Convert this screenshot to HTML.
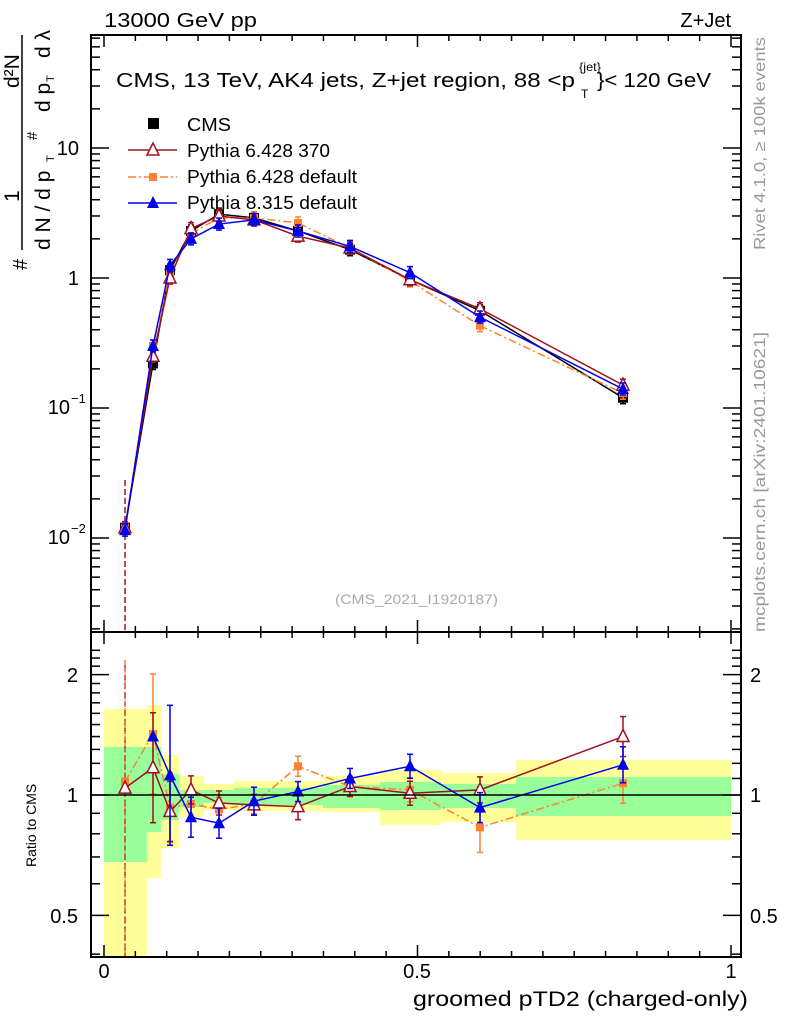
<!DOCTYPE html>
<html><head><meta charset="utf-8"><style>
body{margin:0;background:#fff}
svg{display:block;font-family:"Liberation Sans",sans-serif}
</style></head><body>
<svg id="s" width="786" height="1024" viewBox="0 0 786 1024" xmlns="http://www.w3.org/2000/svg">
<rect width="786" height="1024" fill="#fff"/>
<g id="bands"></g>
<g id="plot"></g>
<rect x="91" y="35" width="650" height="597" fill="none" stroke="#000" stroke-width="2"/>
<rect x="91" y="632" width="650" height="325" fill="none" stroke="#000" stroke-width="2"/>
<line x1="91" y1="795" x2="741" y2="795" stroke="#000" stroke-width="1.5"/>
<g id="ticks" stroke="#000" stroke-width="1.5"></g>
<text x="104" y="27" font-size="20" textLength="153" lengthAdjust="spacingAndGlyphs">13000 GeV pp</text>
<text x="731" y="27" font-size="20" text-anchor="end">Z+Jet</text>
<text x="116" y="87" font-size="20" textLength="459" lengthAdjust="spacingAndGlyphs">CMS, 13 TeV, AK4 jets, Z+jet region, 88 &lt;p</text>
<text x="579" y="71" font-size="12" textLength="22" lengthAdjust="spacingAndGlyphs">{jet}</text>
<text x="581" y="98" font-size="12">T</text>
<text x="597" y="87" font-size="20" textLength="114" lengthAdjust="spacingAndGlyphs">}&lt; 120 GeV</text>
<text x="187" y="131" font-size="18" textLength="44" lengthAdjust="spacingAndGlyphs">CMS</text>
<text x="187" y="157" font-size="18" textLength="143" lengthAdjust="spacingAndGlyphs">Pythia 6.428 370</text>
<text x="187" y="183" font-size="18" textLength="170" lengthAdjust="spacingAndGlyphs">Pythia 6.428 default</text>
<text x="187" y="209" font-size="18" textLength="170" lengthAdjust="spacingAndGlyphs">Pythia 8.315 default</text>
<rect x="148" y="118" width="11" height="11" fill="#000"/>
<line x1="128" y1="150" x2="177" y2="150" stroke="#a01020" stroke-width="1.5"/>
<polygon points="153,143 147,155 159,155" fill="#fff" stroke="#a01020" stroke-width="1.5"/>
<line x1="128" y1="177" x2="177" y2="177" stroke="#ff8030" stroke-width="1.5" stroke-dasharray="8,3,2,3"/>
<rect x="149" y="173" width="8" height="8" fill="#ff8030"/>
<line x1="128" y1="203" x2="177" y2="203" stroke="#0000ee" stroke-width="1.5"/>
<polygon points="153,196 147,208 159,208" fill="#0000ee"/>
<text x="335" y="604" font-size="14" fill="#aaa" textLength="163" lengthAdjust="spacingAndGlyphs">(CMS_2021_I1920187)</text>
<text transform="translate(765,250) rotate(-90)" font-size="16" fill="#999" textLength="213" lengthAdjust="spacingAndGlyphs">Rivet 4.1.0, ≥ 100k events</text>
<text transform="translate(765,632) rotate(-90)" font-size="16" fill="#999" textLength="300" lengthAdjust="spacingAndGlyphs">mcplots.cern.ch [arXiv:2401.10621]</text>
<!-- y label -->
<text transform="translate(27,270) rotate(-90)" font-size="20">#</text>
<line x1="22" y1="35" x2="22" y2="250" stroke="#000" stroke-width="1.5"/>
<text transform="translate(19,202) rotate(-90)" font-size="21">1</text>
<text transform="translate(50,250) rotate(-90)" font-size="21">d N / d p</text>
<text transform="translate(54,162) rotate(-90)" font-size="11">T</text>
<text transform="translate(37,140) rotate(-90)" font-size="15">#</text>
<text transform="translate(50,112) rotate(-90)" font-size="21">d p</text>
<text transform="translate(54,82) rotate(-90)" font-size="11">T</text>
<text transform="translate(50,58) rotate(-90)" font-size="21">d λ</text>
<text transform="translate(19,88) rotate(-90)" font-size="21">d²N</text>
<text transform="translate(36,867) rotate(-90)" font-size="14">Ratio to CMS</text>
<text x="413" y="1006" font-size="21" textLength="335" lengthAdjust="spacingAndGlyphs">groomed pTD2 (charged-only)</text>
<text x="104" y="978" font-size="20" text-anchor="middle">0</text>
<text x="417" y="978" font-size="20" text-anchor="middle">0.5</text>
<text x="731" y="978" font-size="20" text-anchor="middle">1</text>
<text x="79" y="155" font-size="20" text-anchor="end">10</text>
<text x="79" y="285" font-size="20" text-anchor="end">1</text>
<text x="70" y="414" font-size="20" text-anchor="end">10</text><text x="71" y="403" font-size="13">−1</text>
<text x="70" y="544" font-size="20" text-anchor="end">10</text><text x="71" y="533" font-size="13">−2</text>
<text x="78" y="682" font-size="20" text-anchor="end">2</text>
<text x="78" y="802" font-size="20" text-anchor="end">1</text>
<text x="78" y="923" font-size="20" text-anchor="end">0.5</text>
<text x="750" y="682" font-size="20">2</text>
<text x="750" y="802" font-size="20">1</text>
<text x="750" y="923" font-size="20">0.5</text>
</svg>
<script>
const NS="http://www.w3.org/2000/svg";
function el(p,t,a){const e=document.createElementNS(NS,t);for(const k in a)e.setAttribute(k,a[k]);p.appendChild(e);return e;}
const B=document.getElementById('bands'),P=document.getElementById('plot'),T=document.getElementById('ticks');
const X=v=>104+627*v;
const ym=v=>278-130*Math.log10(v);
const yr=r=>795-400*Math.log10(r);
const edges=[104,147,161,179,204,234,274,323,380,441,516,731];
const yel=[[709,957],[705,878],[755,848],[776,817],[784,810],[781,811],[781,811],[776,812],[770,825],[773,822],[760,840]];
const grn=[[747,862],[747,832],[774,820],[790,807],[790,803],[788,805],[788,805],[785,808],[782,810],[784,808],[777,816]];
for(let i=0;i<11;i++){
 el(B,'rect',{x:edges[i],y:yel[i][0],width:edges[i+1]-edges[i],height:yel[i][1]-yel[i][0],fill:'#ffff99'});
 el(B,'rect',{x:edges[i],y:grn[i][0],width:edges[i+1]-edges[i],height:grn[i][1]-grn[i][0],fill:'#99ff99'});
}
const xs=[125,153,170,191,219,254,298,350,410,480,623];
const cms=[0.012,0.22,1.15,2.3,3.1,2.9,2.3,1.65,0.97,0.56,0.12];
const p6=[0.012,0.25,1.0,2.4,3.0,2.8,2.1,1.7,0.97,0.58,0.15];
const p6d=[0.012,0.3,1.1,2.2,2.9,2.9,2.65,1.7,0.95,0.43,0.13];
const p8=[0.0115,0.3,1.25,2.0,2.6,2.8,2.3,1.75,1.1,0.5,0.14];
const r6=[1.04,1.17,0.91,1.03,0.955,0.945,0.935,1.05,1.01,1.03,1.4];
const r6d=[1.08,1.42,0.93,0.95,0.92,0.95,1.18,1.05,1.03,0.83,1.07];
const r8=[null,1.4,1.12,0.88,0.85,0.965,1.02,1.1,1.18,0.93,1.19];
function series(vals,f,col,dash,mk,err){
 const pts=[];vals.forEach((v,i)=>{if(v!=null)pts.push([xs[i],f(v)])});
 el(P,'polyline',{points:pts.map(p=>p.join(',')).join(' '),fill:'none',stroke:col,'stroke-width':1.5,'stroke-dasharray':dash||''});
 pts.forEach((p,i)=>{
  const e=err?err(i):6;
  el(P,'line',{x1:p[0],y1:p[1]-e,x2:p[0],y2:p[1]+e,stroke:col,'stroke-width':1.5});
  el(P,'line',{x1:p[0]-3,y1:p[1]-e,x2:p[0]+3,y2:p[1]-e,stroke:col,'stroke-width':1.5});
  el(P,'line',{x1:p[0]-3,y1:p[1]+e,x2:p[0]+3,y2:p[1]+e,stroke:col,'stroke-width':1.5});
  if(mk=='sq')el(P,'rect',{x:p[0]-5,y:p[1]-5,width:10,height:10,fill:col});
  else if(mk=='sqs')el(P,'rect',{x:p[0]-4,y:p[1]-4,width:8,height:8,fill:col});
  else if(mk=='to')el(P,'polygon',{points:`${p[0]},${p[1]-7} ${p[0]-6},${p[1]+5} ${p[0]+6},${p[1]+5}`,fill:'#fff',stroke:col,'stroke-width':1.5});
  else el(P,'polygon',{points:`${p[0]},${p[1]-7} ${p[0]-6},${p[1]+5} ${p[0]+6},${p[1]+5}`,fill:col});
 });
}
el(P,'line',{x1:125,y1:480,x2:125,y2:632,stroke:'#a01020','stroke-width':1.5,'stroke-dasharray':'6,3'});
series(cms,ym,'#000','', 'sq');
series(p6d,ym,'#ff8030','8,3,2,3','sqs');
series(p6,ym,'#a01020','','to');
series(p8,ym,'#0000ee','','tf');
el(P,'line',{x1:125,y1:660,x2:125,y2:957,stroke:'#ff8030','stroke-width':1.5,'stroke-dasharray':'8,3,2,3'});
el(P,'line',{x1:125,y1:665,x2:125,y2:957,stroke:'#a01020','stroke-width':1,'stroke-dasharray':'6,3'});
const e6=[0,55,30,14,12,10,13,10,12,13,20],e8=[0,70,20,15,14,10,10,12,15,18,25],e6d=[0,60,35,15,12,10,10,10,12,25,20];
series(r6d,yr,'#ff8030','8,3,2,3','sqs',i=>e6d[i]);
series(r6,yr,'#a01020','','to',i=>e6[i]);
series(r8,yr,'#0000ee','','tf',i=>e8[i]);
for(let v=0;v<=1.001;v+=0.05){const x=X(v),big=Math.abs(v*10-Math.round(v*10))<1e-6&&Math.round(v*10)%5==0;const L=big?12:6;
 el(T,'line',{x1:x,y1:632,x2:x,y2:632-L});el(T,'line',{x1:x,y1:35,x2:x,y2:35+L});
 el(T,'line',{x1:x,y1:957,x2:x,y2:957-L});el(T,'line',{x1:x,y1:632,x2:x,y2:632+L});}
for(let d=-3;d<=1;d++)for(let m=1;m<10;m++){const y=ym(m*Math.pow(10,d));if(y<35||y>632)continue;const L=m==1?18:9;
 el(T,'line',{x1:91,y1:y,x2:91+L,y2:y});el(T,'line',{x1:741,y1:y,x2:741-L,y2:y});}
for(let r=0.4;r<=2.35;r+=0.1){const y=yr(r);if(y<632||y>957)continue;const big=[0.5,1,2].some(q=>Math.abs(q-r)<1e-6);const L=big?18:9;
 el(T,'line',{x1:91,y1:y,x2:91+L,y2:y});el(T,'line',{x1:741,y1:y,x2:741-L,y2:y});}
</script>
</body></html>
